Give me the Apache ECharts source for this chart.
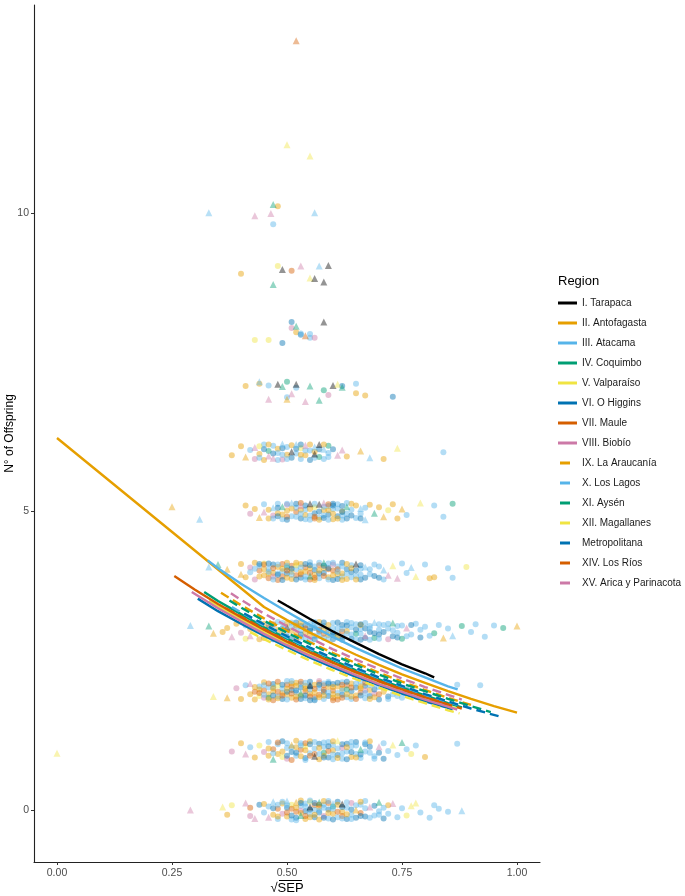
<!DOCTYPE html>
<html><head><meta charset="utf-8">
<script src="https://cdn.jsdelivr.net/npm/echarts@6/dist/echarts.min.js"></script>
<style>html,body{margin:0;padding:0;background:#fff}#c{width:685px;height:896px}</style>
</head><body><div id="c"></div>
<script>
// ---------- categories ----------
const regions = ['I. Tarapaca','II. Antofagasta','III. Atacama','IV. Coquimbo','V. Valparaíso','VI. O Higgins','VII. Maule','VIII. Biobío','IX. La Araucanía','X. Los Lagos','XI. Aysén','XII. Magallanes','Metropolitana','XIV. Los Ríos','XV. Arica y Parinacota'];
const regionColors = ['#000000','#E69F00','#56B4E9','#009E73','#F0E442','#0072B2','#D55E00','#CC79A7','#E69F00','#56B4E9','#009E73','#F0E442','#0072B2','#D55E00','#CC79A7'];
const regionDashed = [false,false,false,false,false,false,false,false,true,true,true,true,true,true,true];
const xTicks = [0,0.25,0.5,0.75,1];
const yTicks = [0,5,10];

// ---------- fitted lines: [sqrt(SEP), offspring] ----------
const fitI = [[0.48,3.51],[0.50,3.42],[0.55,3.20],[0.60,2.99],[0.65,2.80],[0.70,2.61],[0.75,2.44],[0.80,2.29],[0.82,2.22]];
const fitII = [[0,6.23],[0.45,3.40],[0.50,3.18],[0.55,2.97],[0.60,2.78],[0.65,2.60],[0.70,2.43],[0.75,2.27],[0.80,2.13],[0.85,1.99],[0.90,1.86],[0.95,1.74],[1.00,1.63]];
const fitIII = [[0.3275,4.18],[0.35,4.05],[0.40,3.79],[0.45,3.55],[0.50,3.32],[0.55,3.10],[0.60,2.90],[0.65,2.71],[0.70,2.54],[0.75,2.37],[0.80,2.22],[0.85,2.07],[0.871,2.02]];
const fitIV = [[0.32,3.65],[0.35,3.50],[0.40,3.28],[0.45,3.06],[0.50,2.87],[0.55,2.68],[0.60,2.51],[0.65,2.34],[0.70,2.19],[0.75,2.05],[0.80,1.92],[0.85,1.79],[0.88,1.72]];
const fitV = [[0.33,3.50],[0.35,3.41],[0.40,3.19],[0.45,2.98],[0.50,2.79],[0.55,2.61],[0.60,2.44],[0.65,2.28],[0.70,2.13],[0.75,1.99],[0.80,1.87],[0.85,1.74],[0.87,1.70]];
const fitVI = [[0.306,3.54],[0.35,3.33],[0.40,3.12],[0.45,2.92],[0.50,2.73],[0.55,2.55],[0.60,2.39],[0.65,2.23],[0.70,2.09],[0.75,1.95],[0.80,1.82],[0.85,1.71],[0.86,1.68]];
const fitVII = [[0.255,3.92],[0.30,3.69],[0.35,3.45],[0.40,3.23],[0.45,3.02],[0.50,2.82],[0.55,2.64],[0.60,2.47],[0.65,2.31],[0.70,2.16],[0.75,2.02],[0.80,1.89],[0.849,1.77]];
const fitVIII = [[0.293,3.65],[0.35,3.38],[0.40,3.16],[0.45,2.95],[0.50,2.76],[0.55,2.58],[0.60,2.42],[0.65,2.26],[0.70,2.11],[0.75,1.98],[0.80,1.85],[0.85,1.73],[0.87,1.68]];
const fitIX = [[0.3565,3.64],[0.40,3.43],[0.45,3.21],[0.50,3.00],[0.55,2.81],[0.60,2.63],[0.65,2.46],[0.70,2.30],[0.75,2.15],[0.80,2.01],[0.85,1.88],[0.90,1.76]];
const fitX = [[0.38,3.40],[0.40,3.31],[0.45,3.09],[0.50,2.89],[0.55,2.70],[0.60,2.53],[0.65,2.36],[0.70,2.21],[0.75,2.07],[0.80,1.93],[0.85,1.81],[0.88,1.74]];
const fitXI = [[0.375,3.51],[0.40,3.39],[0.45,3.17],[0.50,2.97],[0.55,2.78],[0.60,2.60],[0.65,2.43],[0.70,2.27],[0.75,2.12],[0.80,1.99],[0.85,1.86],[0.90,1.74],[0.943,1.64]];
const fitXII = [[0.42,2.98],[0.45,2.86],[0.50,2.68],[0.55,2.50],[0.60,2.34],[0.65,2.19],[0.70,2.05],[0.75,1.91],[0.80,1.79],[0.85,1.67],[0.875,1.62]];
const fitMetro = [[0.407,3.29],[0.45,3.11],[0.50,2.91],[0.55,2.72],[0.60,2.54],[0.65,2.38],[0.70,2.22],[0.75,2.08],[0.80,1.94],[0.85,1.82],[0.90,1.70],[0.965,1.56]];
const fitXIV = [[0.367,3.38],[0.40,3.24],[0.45,3.03],[0.50,2.83],[0.55,2.65],[0.60,2.47],[0.65,2.31],[0.70,2.16],[0.75,2.02],[0.80,1.89],[0.85,1.77],[0.88,1.70]];
const fitXV = [[0.378,3.63],[0.40,3.52],[0.45,3.29],[0.50,3.08],[0.55,2.88],[0.60,2.69],[0.65,2.52],[0.70,2.36],[0.75,2.20],[0.80,2.06],[0.85,1.93],[0.88,1.85]];
const fits = [fitI,fitII,fitIII,fitIV,fitV,fitVI,fitVII,fitVIII,fitIX,fitX,fitXI,fitXII,fitMetro,fitXIV,fitXV];

// ---------- jittered observations per offspring count: [sqrtSEP*100, jitter*100, colour code] (upper case = triangle) ----------
const obs0 = [[29,0,'P'],[36,5,'Y'],[37,-8,'o'],[38,8,'y'],[41,12,'P'],[42,-10,'p'],[42,4,'v'],[43,-14,'P'],[44,9,'b'],[45,-4,'s'],
[45,10,'o'],[46,-12,'P'],[46,6,'s'],[47,-8,'o'],[47,14,'S'],[48,-15,'s'],[48,2,'v'],[49,11,'o'],[49,-6,'p'],[50,15,'S'],
[50,-11,'o'],[50,4,'b'],[51,-16,'s'],[51,9,'y'],[52,-3,'v'],[52,13,'O'],[52,-13,'b'],[53,7,'s'],[53,-9,'G'],[53,16,'o'],
[54,-2,'b'],[54,11,'s'],[54,-15,'o'],[55,5,'K'],[55,-7,'s'],[55,14,'y'],[56,-12,'b'],[56,8,'v'],[56,0,'s'],[57,-16,'o'],
[57,13,'G'],[57,-4,'b'],[58,9,'s'],[58,-10,'p'],[58,15,'o'],[59,1,'b'],[59,-14,'s'],[60,11,'S'],[60,-6,'o'],[60,6,'g'],
[61,-12,'s'],[61,14,'b'],[62,-3,'o'],[62,10,'K'],[63,-15,'b'],[63,4,'s'],[64,12,'p'],[64,-8,'s'],[65,0,'O'],[65,-13,'b'],
[66,9,'s'],[66,-5,'v'],[67,15,'s'],[67,-11,'b'],[68,5,'P'],[69,-9,'s'],[70,13,'G'],[70,-2,'s'],[71,-14,'b'],[72,8,'o'],
[72,-6,'s'],[73,11,'P'],[74,-12,'s'],[75,3,'s'],[76,-9,'y'],[77,7,'Y'],[78,12,'Y'],[79,-4,'s'],[81,-13,'s'],[82,8,'s'],
[83,2,'s'],[85,-3,'s'],[88,-1,'S'],[51,2,'v'],[55,-12,'o'],[59,12,'v'],[53,-1,'p'],[57,5,'o'],[62,-10,'v'],[48,9,'s'],
[47,3,'b'],[48,-11,'o'],[49,14,'s'],[50,-4,'v'],[50,8,'s'],[51,-9,'b'],[52,4,'o'],[52,-17,'s'],[53,12,'b'],[53,-5,'o'],
[54,6,'s'],[54,-10,'v'],[55,1,'b'],[55,16,'s'],[56,-8,'o'],[56,12,'b'],[57,-1,'s'],[57,9,'v'],[58,-13,'b'],[58,4,'s'],
[59,-5,'o'],[59,15,'s'],[60,-16,'b'],[60,2,'s'],[61,-3,'v'],[61,9,'o'],[62,-14,'s'],[62,5,'b'],[63,-7,'o'],[63,13,'s'],
[64,1,'b'],[64,-15,'s'],[65,8,'s'],[66,-10,'b'],[67,3,'s'],[68,-13,'s'],[69,7,'b'],[70,-8,'s'],[71,4,'s'],[66,14,'o']];
const obs1 = [[0,-5,'Y'],[38,-2,'p'],[40,12,'o'],[41,-6,'P'],[42,5,'s'],[43,-12,'o'],[44,8,'y'],[45,-3,'p'],[46,14,'s'],[46,-9,'o'],[47,2,'v'],
[47,-15,'G'],[48,10,'s'],[48,-6,'o'],[49,15,'b'],[49,-11,'y'],[50,4,'s'],[50,-14,'p'],[51,9,'O'],[51,-3,'b'],[52,16,'o'],
[52,-9,'s'],[53,1,'v'],[53,12,'s'],[54,-13,'b'],[54,7,'y'],[55,-5,'s'],[55,15,'o'],[56,-10,'K'],[56,3,'s'],[57,11,'b'],
[57,-15,'o'],[58,6,'s'],[58,-4,'g'],[59,14,'s'],[59,-12,'b'],[60,0,'o'],[60,9,'s'],[61,-8,'b'],[61,16,'Y'],[62,-14,'s'],
[62,4,'p'],[63,11,'b'],[63,-2,'s'],[64,-11,'o'],[64,7,'s'],[65,14,'b'],[65,-6,'s'],[66,2,'G'],[66,-13,'s'],[67,10,'b'],
[68,-4,'s'],[68,15,'o'],[69,-10,'s'],[70,6,'P'],[71,-14,'b'],[71,12,'s'],[72,-1,'s'],[73,9,'Y'],[74,-8,'s'],[75,13,'G'],
[76,2,'s'],[77,-6,'y'],[78,8,'s'],[80,-11,'o'],[87,11,'s'],[52,5,'o'],[56,-6,'v'],[60,-15,'s'],[54,12,'v'],[58,-9,'o'],
[46,3,'o'],[47,-5,'s'],[48,13,'v'],[49,-2,'o'],[50,-9,'b'],[50,12,'s'],[51,-16,'v'],[51,5,'s'],[52,-4,'b'],[53,-10,'o'],
[53,8,'s'],[54,0,'o'],[54,-16,'s'],[55,10,'b'],[55,-9,'v'],[56,14,'s'],[57,-6,'s'],[57,4,'o'],[58,-12,'b'],[58,13,'s'],
[59,-1,'v'],[59,7,'b'],[60,-7,'s'],[60,15,'o'],[61,3,'s'],[61,-13,'o'],[62,10,'b'],[62,-5,'s'],[63,-15,'b'],[63,5,'o'],
[64,14,'s'],[64,-3,'b'],[65,8,'s'],[65,-12,'o'],[66,-7,'b'],[67,-2,'s'],[67,13,'s'],[68,6,'b'],[69,-14,'s'],[70,-4,'b']];
const obs2 = [[34,-10,'Y'],[37,-12,'O'],[39,4,'p'],[40,-14,'o'],[41,9,'s'],[42,-6,'o'],[42,12,'P'],[43,-2,'v'],[43,-15,'o'],[44,7,'s'],
[44,-9,'y'],[45,14,'o'],[45,0,'v'],[45,-12,'p'],[46,5,'s'],[46,-6,'o'],[47,11,'b'],[47,-16,'v'],[47,-1,'o'],[48,8,'y'],
[48,-10,'s'],[48,15,'v'],[49,-4,'o'],[49,3,'s'],[49,-14,'b'],[50,10,'v'],[50,-7,'o'],[50,16,'s'],[51,1,'b'],[51,-12,'o'],
[51,7,'v'],[52,-3,'s'],[52,13,'o'],[52,-15,'v'],[53,5,'b'],[53,-8,'o'],[53,11,'s'],[54,-1,'v'],[54,-13,'s'],[54,8,'o'],
[55,15,'b'],[55,-5,'o'],[55,2,'s'],[56,-11,'v'],[56,10,'o'],[56,-16,'b'],[57,4,'s'],[57,-7,'v'],[57,13,'o'],[58,-2,'b'],
[58,9,'v'],[58,-14,'s'],[59,6,'o'],[59,-9,'b'],[59,15,'s'],[60,0,'v'],[60,-12,'o'],[60,11,'b'],[61,-4,'s'],[61,7,'o'],
[61,-15,'v'],[62,14,'s'],[62,-7,'b'],[62,3,'o'],[63,-11,'s'],[63,9,'v'],[64,-1,'b'],[64,12,'o'],[64,-14,'s'],[65,5,'b'],
[65,-8,'o'],[66,15,'s'],[66,-3,'v'],[67,8,'b'],[67,-13,'s'],[68,1,'o'],[68,-9,'b'],[69,11,'s'],[69,-5,'p'],[70,-15,'b'],
[70,6,'s'],[71,-2,'o'],[71,13,'s'],[72,-10,'b'],[72,4,'y'],[73,-6,'s'],[74,10,'G'],[75,-12,'s'],[76,2,'b'],[77,-4,'s'],
[78,8,'Y'],[79,-9,'s'],[87,10,'s'],[92,9,'s'],[46,-12,'g'],[53,-4,'G'],[57,16,'p'],[63,2,'g'],[55,9,'K'],[67,0,'p'],
[44,2,'o'],[47,6,'s'],[50,-2,'b'],[52,8,'o'],[54,-8,'b'],[56,3,'v'],[58,12,'s'],[60,-6,'o'],[62,-12,'v'],[66,7,'o'],
[43,6,'o'],[44,-4,'v'],[45,9,'s'],[46,-15,'o'],[46,12,'v'],[47,-8,'b'],[47,4,'o'],[48,-2,'v'],[48,-13,'o'],[49,10,'b'],
[49,-8,'v'],[50,3,'o'],[50,-15,'s'],[51,12,'o'],[51,-5,'v'],[52,0,'b'],[52,-10,'o'],[53,15,'v'],[53,-14,'b'],[54,3,'o'],
[54,13,'s'],[55,-10,'v'],[55,7,'b'],[56,-3,'o'],[56,-14,'s'],[57,10,'b'],[57,-11,'o'],[58,1,'v'],[58,-8,'o'],[59,12,'b'],
[59,-3,'s'],[60,6,'o'],[60,-16,'v'],[61,13,'b'],[61,-9,'o'],[62,0,'s'],[62,10,'v'],[63,-6,'o'],[63,15,'b'],[64,5,'v'],
[64,-10,'o'],[65,12,'s'],[65,-14,'v'],[66,-8,'b'],[66,4,'o'],[67,-4,'s'],[67,13,'v'],[68,-14,'o'],[68,9,'s'],[69,2,'b'],
[69,-11,'o'],[70,13,'b'],[70,-6,'v'],[71,7,'b'],[72,-14,'s'],[73,5,'b'],[74,-9,'s'],[45,-7,'s'],[51,16,'s'],[55,-16,'b']];
const obs3 = [[29,9,'S'],[33,8,'G'],[34,-4,'O'],[36,-2,'o'],[37,5,'o'],[38,-10,'P'],[39,12,'o'],[40,-3,'p'],[41,9,'s'],[41,-13,'y'],[42,3,'o'],
[42,-8,'P'],[43,14,'s'],[43,-1,'y'],[44,-14,'o'],[44,7,'p'],[45,-6,'s'],[45,12,'o'],[46,0,'b'],[46,-11,'y'],[47,9,'s'],
[47,-4,'o'],[48,15,'s'],[48,-15,'p'],[49,4,'b'],[49,-9,'s'],[50,12,'o'],[50,-2,'s'],[51,-13,'b'],[51,7,'s'],[52,-6,'o'],
[52,14,'b'],[53,1,'s'],[53,-11,'s'],[54,9,'b'],[54,-3,'o'],[55,-15,'s'],[55,12,'s'],[56,5,'b'],[56,-8,'s'],[57,15,'o'],
[57,-1,'b'],[58,-12,'s'],[58,8,'s'],[59,2,'b'],[59,-7,'o'],[60,13,'s'],[60,-14,'b'],[61,5,'s'],[61,-4,'s'],[62,10,'b'],
[62,-10,'s'],[63,0,'o'],[63,15,'s'],[64,-13,'b'],[64,6,'s'],[65,-5,'g'],[65,11,'s'],[66,-15,'b'],[66,3,'s'],[67,-8,'P'],
[67,13,'s'],[68,-2,'b'],[68,8,'s'],[69,-12,'g'],[69,14,'S'],[70,2,'s'],[70,-6,'b'],[71,10,'s'],[72,-14,'p'],[72,4,'s'],
[73,-9,'b'],[73,13,'G'],[74,-3,'s'],[75,9,'s'],[75,-13,'g'],[76,5,'P'],[77,-6,'s'],[78,12,'s'],[79,-11,'b'],[80,7,'s'],
[82,-4,'g'],[83,10,'s'],[84,-12,'O'],[85,4,'s'],[86,-8,'S'],[88,8,'g'],[90,-2,'s'],[91,11,'s'],[93,-10,'s'],[95,9,'s'],
[97,5,'g'],[100,8,'O'],[54,4,'v'],[58,-5,'v'],[47,11,'v'],[62,-1,'v'],[66,10,'o'],[52,-16,'v'],[44,13,'g'],[50,6,'K'],
[56,13,'s'],[60,-3,'b'],[64,-6,'s'],[53,8,'b'],[58,3,'o'],[67,4,'b'],[55,0,'b'],[61,-11,'s'],
[44,1,'s'],[45,-12,'o'],[46,10,'s'],[47,-14,'b'],[48,2,'o'],[48,-7,'s'],[49,13,'s'],[50,-10,'b'],[51,0,'o'],[51,14,'s'],
[52,6,'s'],[53,-6,'b'],[53,14,'o'],[54,-13,'s'],[55,3,'b'],[55,-6,'o'],[56,15,'s'],[56,-14,'b'],[57,6,'s'],[57,-9,'s'],
[58,14,'b'],[59,-14,'s'],[59,10,'o'],[60,4,'s'],[60,-7,'b'],[61,14,'b'],[62,3,'s'],[62,-15,'b'],[63,-5,'s'],[63,9,'b'],
[64,13,'s'],[65,2,'b'],[65,-14,'s'],[66,-5,'s'],[66,11,'b'],[67,-12,'b'],[68,4,'s'],[68,-15,'s'],[69,-4,'b'],[70,11,'s'],
[70,-13,'s'],[71,-2,'b'],[72,12,'s'],[73,1,'s'],[74,-11,'b'],[74,8,'s'],[76,-9,'s'],[77,10,'b'],[79,2,'s'],[81,-8,'s'],
[46,6,'v'],[49,-3,'o'],[52,9,'o'],[57,2,'v'],[61,-9,'o']];
const obs4 = [[33,7,'S'],[35,11,'G'],[37,3,'O'],[40,-5,'O'],[40,12,'o'],[41,-10,'o'],[42,6,'p'],[42,-2,'s'],[43,14,'o'],[43,-14,'p'],
[44,1,'v'],[44,9,'s'],[45,-7,'o'],[45,13,'y'],[46,-12,'v'],[46,4,'s'],[47,-3,'o'],[47,11,'b'],[48,-15,'v'],[48,7,'o'],
[49,0,'s'],[49,-9,'v'],[50,14,'o'],[50,-4,'b'],[51,9,'v'],[51,-13,'o'],[52,3,'s'],[52,-7,'v'],[53,12,'o'],[53,-11,'b'],
[54,6,'v'],[54,-1,'o'],[55,15,'s'],[55,-14,'v'],[56,2,'b'],[56,-6,'o'],[57,10,'v'],[57,-12,'s'],[58,5,'o'],[58,-3,'b'],
[59,13,'s'],[59,-10,'o'],[60,1,'v'],[60,-15,'b'],[61,8,'s'],[61,-5,'o'],[62,14,'b'],[62,-9,'s'],[63,3,'b'],[63,-13,'o'],
[64,10,'s'],[64,-2,'b'],[65,-8,'s'],[65,12,'K'],[66,4,'s'],[66,-14,'b'],[67,7,'S'],[68,-5,'s'],[69,11,'s'],[70,-11,'b'],
[71,2,'S'],[72,-7,'P'],[73,9,'Y'],[74,-12,'P'],[75,13,'s'],[76,-3,'s'],[77,6,'S'],[78,-9,'Y'],[80,11,'s'],[81,-12,'o'],
[82,-10,'o'],[85,5,'s'],[86,-11,'s'],[89,7,'y'],[50,6,'g'],[55,-8,'G'],[60,11,'p'],[47,-9,'p'],[58,14,'G'],[52,10,'y'],
[45,3,'o'],[49,12,'v'],[51,-1,'o'],[53,-5,'v'],[55,5,'o'],[57,-4,'b'],[59,3,'v'],[62,-4,'o'],[48,-4,'s'],[56,-15,'o'],
[43,4,'s'],[44,-9,'o'],[45,11,'v'],[46,-4,'o'],[46,13,'b'],[47,5,'v'],[47,-14,'s'],[48,-6,'b'],[48,11,'s'],[49,4,'o'],
[49,-15,'b'],[50,9,'s'],[50,-11,'o'],[51,4,'b'],[51,-6,'s'],[52,14,'o'],[52,-14,'b'],[53,6,'s'],[53,-2,'o'],[54,12,'b'],
[54,-9,'s'],[55,-3,'v'],[55,10,'b'],[56,8,'s'],[56,-11,'v'],[57,1,'o'],[57,14,'s'],[58,-8,'v'],[58,9,'b'],[59,-14,'s'],
[59,5,'b'],[60,-7,'o'],[60,14,'s'],[61,-13,'b'],[61,3,'v'],[62,8,'s'],[62,-15,'o'],[63,-4,'s'],[63,12,'o'],[64,-10,'s'],
[64,5,'o'],[65,1,'b'],[65,-14,'o'],[66,10,'b'],[66,-6,'s'],[67,-11,'b'],[68,3,'s'],[69,-8,'b'],[70,8,'s'],[71,-14,'s'],
[46,-1,'s'],[50,1,'v'],[54,-14,'s'],[44,12,'b'],[61,-1,'s']];
const obs5 = [[25,8,'O'],[31,-13,'S'],[41,10,'o'],[42,-4,'p'],[43,4,'o'],[44,-10,'O'],[45,12,'s'],[45,-1,'P'],[46,-12,'o'],[47,6,'S'],
[47,-7,'p'],[48,13,'s'],[48,-3,'o'],[49,8,'G'],[49,-13,'s'],[50,1,'o'],[50,11,'p'],[51,-8,'s'],[51,14,'S'],[52,-1,'v'],
[52,6,'s'],[53,-12,'b'],[53,10,'P'],[54,3,'s'],[54,-6,'o'],[55,13,'K'],[55,-14,'s'],[56,7,'y'],[56,-3,'b'],[57,12,'K'],
[57,-10,'s'],[58,2,'o'],[58,14,'P'],[59,-5,'b'],[59,9,'s'],[60,-13,'o'],[60,4,'s'],[61,12,'s'],[61,-8,'b'],[62,0,'o'],
[62,-14,'s'],[63,8,'G'],[63,-4,'s'],[64,13,'o'],[65,-11,'s'],[66,5,'S'],[67,-14,'S'],[68,11,'o'],[69,-3,'G'],[70,7,'o'],
[71,-9,'O'],[72,2,'y'],[73,12,'o'],[74,-12,'o'],[75,4,'O'],[76,-6,'s'],[79,14,'Y'],[82,10,'s'],[84,-9,'s'],[86,13,'g'],
[50,-9,'v'],[53,3,'o'],[56,-12,'v'],[58,-7,'s'],[60,10,'b'],
[46,3,'o'],[47,-12,'s'],[48,6,'b'],[49,-5,'o'],[50,13,'s'],[50,-14,'b'],[51,5,'o'],[52,-9,'s'],[52,13,'b'],[53,-4,'s'],
[54,10,'b'],[54,-13,'s'],[55,4,'o'],[55,-7,'s'],[56,13,'s'],[57,0,'b'],[57,-14,'o'],[58,8,'s'],[58,-11,'b'],[59,2,'o'],
[59,-14,'s'],[60,13,'b'],[60,-4,'o'],[61,5,'s'],[61,-12,'o'],[62,9,'b'],[62,-7,'s'],[63,14,'s'],[63,-12,'b'],[64,3,'s'],
[64,-7,'b'],[65,10,'o'],[66,-4,'s'],[66,-12,'b'],[67,6,'s'],[53,14,'v'],[56,-9,'v'],[59,12,'v'],[62,-1,'b'],[48,-8,'b']];
const obs6 = [[38,-6,'o'],[40,9,'o'],[41,-9,'O'],[42,3,'s'],[43,-12,'p'],[43,7,'P'],[44,-4,'o'],[45,12,'s'],[45,-14,'o'],[46,1,'g'],
[46,-7,'P'],[47,10,'s'],[47,-11,'P'],[48,5,'o'],[48,-2,'s'],[49,13,'S'],[49,-13,'p'],[50,-5,'o'],[50,8,'s'],[51,0,'K'],
[51,-10,'b'],[52,12,'S'],[52,-3,'s'],[53,6,'y'],[53,-12,'s'],[54,-6,'o'],[54,11,'P'],[55,2,'s'],[55,-14,'b'],[56,8,'S'],
[56,-4,'K'],[57,12,'K'],[57,-9,'g'],[58,4,'S'],[59,-2,'s'],[59,10,'g'],[61,-6,'P'],[62,3,'P'],[63,-8,'o'],[66,1,'O'],
[68,-10,'S'],[71,-12,'o'],[74,6,'Y'],[84,-1,'s'],[44,9,'y'],[58,-12,'s'],
[44,-10,'s'],[45,4,'b'],[46,12,'o'],[47,-3,'b'],[48,-14,'s'],[49,6,'b'],[50,-12,'s'],[51,11,'o'],[52,5,'b'],[53,-5,'o'],
[54,2,'s'],[55,12,'o'],[56,-10,'s'],[57,4,'b'],[58,12,'o'],[59,-9,'s'],[60,4,'b'],[49,-5,'s'],[53,12,'b'],[56,0,'o']];
const obs7 = [[41,10,'o'],[44,14,'o'],[44,17,'S'],[46,11,'s'],[48,13,'K'],[49,9,'G'],[50,17,'g'],[50,-12,'O'],[52,13,'K'],[52,7,'s'],
[51,-3,'P'],[54,-16,'P'],[55,10,'G'],[58,3,'g'],[59,-5,'p'],[60,11,'K'],[61,13,'Y'],[62,8,'G'],[62,10,'b'],[65,14,'s'],
[65,-2,'o'],[67,-6,'o'],[73,-8,'b'],[46,-12,'P'],[50,-9,'s'],[57,-14,'G']];
const obs8 = [[43,-13,'y'],[46,-13,'y'],[49,-18,'b'],[51,17,'b'],[51,7,'p'],[52,10,'G'],[52,0,'o'],[53,-4,'b'],[53,-2,'s'],[54,-6,'V'],
[55,-3,'s'],[55,-9,'s'],[56,-9,'p'],[58,17,'K']];
const obs9 = [[40,-2,'o'],[48,11,'y'],[49,5,'K'],[51,3,'v'],[53,11,'P'],[55,-9,'Y'],[56,-10,'K'],[57,11,'S'],[58,-16,'K'],[59,12,'K'],[47,-20,'G']];
const obs10 = [[33,0,'S'],[43,-5,'P'],[46.5,-1,'P'],[47,14,'G'],[48,11,'o'],[47,-19,'s'],[56,0,'S']];
const obs11 = [[50,14,'Y'],[55,-5,'Y']];
const obs13 = [[52,-12,'V']];
const observations = [[0,obs0],[1,obs1],[2,obs2],[3,obs3],[4,obs4],[5,obs5],[6,obs6],[7,obs7],[8,obs8],[9,obs9],[10,obs10],[11,obs11],[13,obs13]];

// ---------- build ----------
const pointColors = {k:'#000000',o:'#E69F00',s:'#56B4E9',g:'#009E73',y:'#F0E442',b:'#0072B2',v:'#D55E00',p:'#CC79A7'};
const circles = [], triangles = [];
observations.forEach(([lv, arr]) => arr.forEach(([x, dy, c]) => {
  const item = {value: [x / 100, lv + dy / 100], itemStyle: {color: pointColors[c.toLowerCase()]}};
  (c === c.toUpperCase() ? triangles : circles).push(item);
}));

const FONT = '"Liberation Sans", Arial, sans-serif';
const lineSeries = regions.map((name, i) => ({
  type: 'line', name, data: fits[i], symbol: 'none', showSymbol: false, smooth: false,
  lineStyle: {color: regionColors[i], width: 2.4, type: regionDashed[i] ? [9, 5] : 'solid', cap: 'butt'},
  itemStyle: {color: regionColors[i]}, z: 5, silent: true
}));

const chart = echarts.init(document.getElementById('c'), null, {renderer: 'canvas'});
chart.setOption({
  animation: false,
  backgroundColor: '#ffffff',
  textStyle: {fontFamily: FONT},
  grid: {left: 34, right: 145, top: 5, bottom: 34, containLabel: false, outerBoundsMode: 'none'},
  xAxis: {
    type: 'value', min: -0.05, max: 1.05,
    axisLine: {show: true, onZero: false, lineStyle: {color: '#222', width: 1.1}},
    axisTick: {show: true, customValues: xTicks, length: 3, lineStyle: {color: '#333'}},
    axisLabel: {customValues: xTicks, formatter: v => v.toFixed(2), color: '#4d4d4d', fontSize: 10.5, margin: 6, fontFamily: FONT},
    splitLine: {show: false}
  },
  yAxis: {
    type: 'value', min: -0.87, max: 13.48,
    name: 'N° of Offspring', nameLocation: 'middle', nameGap: 18, nameRotate: 90, nameMoveOverlap: false,
    nameTextStyle: {color: '#000', fontSize: 12, fontFamily: FONT},
    axisLine: {show: true, onZero: false, lineStyle: {color: '#222', width: 1.1}},
    axisTick: {show: true, customValues: yTicks, length: 3, lineStyle: {color: '#333'}},
    axisLabel: {customValues: yTicks, color: '#4d4d4d', fontSize: 10.5, margin: 5, fontFamily: FONT},
    splitLine: {show: false}
  },
  legend: [
    {left: 558, top: 296, orient: 'vertical', padding: 0, itemGap: 6, itemWidth: 19, itemHeight: 3, selectedMode: false,
     icon: 'rect', data: regions.slice(0, 8),
     textStyle: {color: '#1a1a1a', fontSize: 10, lineHeight: 14, fontFamily: FONT}},
    {left: 560, top: 456, orient: 'vertical', padding: 0, itemGap: 6, itemWidth: 10, itemHeight: 3, selectedMode: false,
     icon: 'rect', data: regions.slice(8),
     textStyle: {color: '#1a1a1a', fontSize: 10, lineHeight: 14, padding: [0, 0, 0, 7], fontFamily: FONT}}
  ],
  graphic: [
    {type: 'text', left: 558, top: 275, style: {text: 'Region', fill: '#000', font: '13px ' + FONT}},
    {type: 'text', x: 287, y: 888, style: {text: '√SEP', fill: '#000', font: '13px ' + FONT, textAlign: 'center', textVerticalAlign: 'middle'}},
    {type: 'line', shape: {x1: 279, y1: 880.5, x2: 302, y2: 880.5}, style: {stroke: '#000', lineWidth: 1}}
  ],
  series: [
    {type: 'scatter', name: 'obs_circle', data: circles, symbol: 'circle', symbolSize: 6,
     itemStyle: {opacity: 0.45}, z: 2, silent: true},
    {type: 'scatter', name: 'obs_triangle', data: triangles, symbol: 'triangle', symbolSize: 7,
     itemStyle: {opacity: 0.42}, z: 2, silent: true}
  ].concat(lineSeries)
});
</script>
</body></html>
